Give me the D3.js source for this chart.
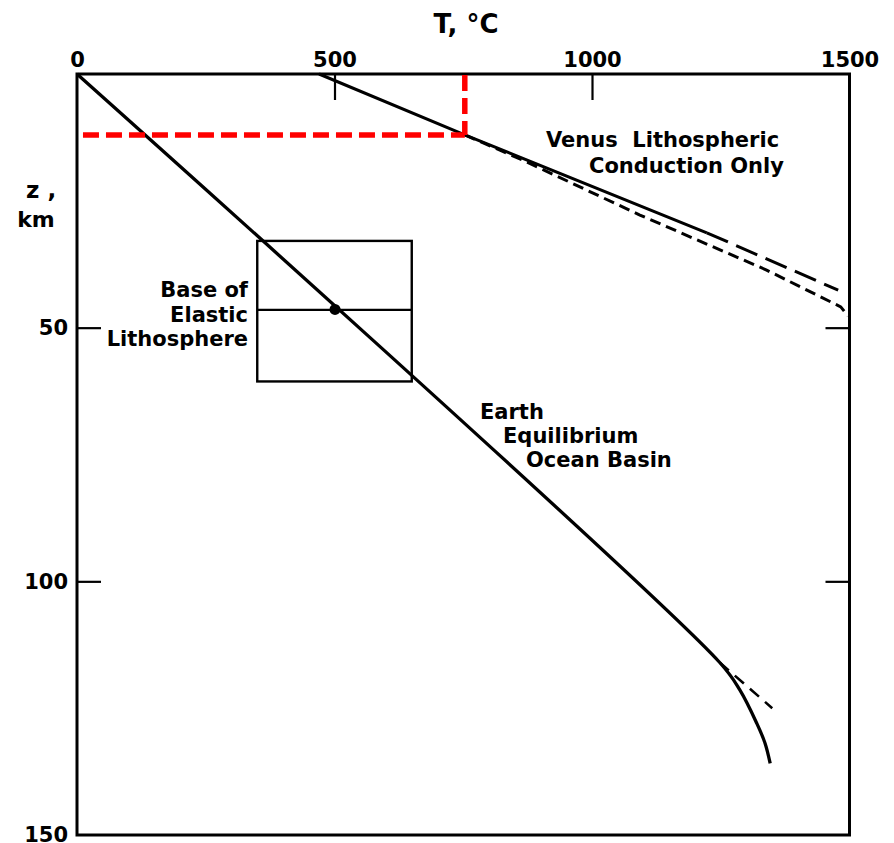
<!DOCTYPE html>
<html>
<head>
<meta charset="utf-8">
<script src="https://cdn.jsdelivr.net/npm/d3@7"></script>
<style>
  html, body { margin: 0; padding: 0; background: #fff; }
  svg { display: block; }
  text { font-family: "DejaVu Sans", sans-serif; font-weight: bold; fill: #000; white-space: pre; }
</style>
</head>
<body>
<svg id="chart" width="894" height="843"></svg>
<script>
// ---- data ----
const tempTicks = [0, 500, 1000, 1500];
const innerTempTicks = [500, 1000];
const depthTicks = [50, 100, 150];
const innerDepthTicks = [50, 100];

// Earth equilibrium ocean basin geotherm
const earthT = [0, 1248, 1287, 1320, 1336, 1346];
const earthZ = [0, 116, 121.4, 128, 131.9, 135.9];
// Earth dashed (linear) extension
const earthExtT = [1248, 1350];
const earthExtZ = [116, 125];

// Venus lithospheric conduction only (solid + long-dashed extension)
const venusT = [470, 753, 1223];
const venusZ = [0, 12, 31.3];
const venusExtT = [1223, 1478];
const venusExtZ = [31.3, 42.6];
// Venus alternative (short dashed)
const venusAltT = [753, 866, 1093, 1338, 1483, 1497];
const venusAltZ = [12, 17, 27.8, 38.6, 45.9, 47.7];

// Red marker (T, z)
const redT = [11.6, 753];
const redZ = [0, 12];

// Elastic lithosphere box
const boxT = [350, 650];
const boxZ = [32.9, 46.5, 60.6];
const pointT = [501];
const pointZ = [46.4];

// ---- layout ----
const svg = d3.select("#chart");
const L = 77, R = 849.5, T = 74, B = 835;
const x = d3.scaleLinear().domain([0, 1500]).range([L, R]);
const y = d3.scaleLinear().domain([0, 150]).range([T, B]);

const zip = (a, b) => a.map((v, i) => [v, b[i]]);
const line = d3.line().x(d => x(d[0])).y(d => y(d[1]));

// frame
svg.append("rect").attr("x", L).attr("y", T).attr("width", R - L).attr("height", B - T)
  .attr("fill", "none").attr("stroke", "#000").attr("stroke-width", 3);

// top axis labels
const topAxis = svg.append("g").attr("transform", `translate(0,${T})`)
  .call(d3.axisTop(x).tickValues(tempTicks).tickSize(0).tickPadding(7).tickFormat(d3.format("d")));
topAxis.select(".domain").remove();
topAxis.selectAll("text").style("font-size", "21px").style("font-family", "DejaVu Sans").style("font-weight", "bold");

// top inner ticks
const topTicks = svg.append("g").attr("transform", `translate(0,${T})`)
  .call(d3.axisBottom(x).tickValues(innerTempTicks).tickSize(26).tickFormat(""));
topTicks.select(".domain").remove();
topTicks.selectAll("line").attr("stroke", "#000").attr("stroke-width", 2.2);

// left axis labels
const leftAxis = svg.append("g").attr("transform", `translate(${L},0)`)
  .call(d3.axisLeft(y).tickValues(depthTicks).tickSize(0).tickPadding(9).tickFormat(d3.format("d")));
leftAxis.select(".domain").remove();
leftAxis.selectAll("text").style("font-size", "21px").style("font-family", "DejaVu Sans").style("font-weight", "bold");

// left inner ticks
const leftTicks = svg.append("g").attr("transform", `translate(${L},0)`)
  .call(d3.axisRight(y).tickValues(innerDepthTicks).tickSize(24).tickFormat(""));
leftTicks.select(".domain").remove();
leftTicks.selectAll("line").attr("stroke", "#000").attr("stroke-width", 2.2);

// right inner ticks
const rightTicks = svg.append("g").attr("transform", `translate(${R},0)`)
  .call(d3.axisLeft(y).tickValues(innerDepthTicks).tickSize(24).tickFormat(""));
rightTicks.select(".domain").remove();
rightTicks.selectAll("line").attr("stroke", "#000").attr("stroke-width", 2.2);

// axis titles
svg.append("text").attr("x", 466).attr("y", 33).attr("text-anchor", "middle")
  .style("font-size", "26px").text("T, °C");
svg.append("text").attr("x", 26).attr("y", 198).attr("text-anchor", "start")
  .style("font-size", "23px").text("z ,");
svg.append("text").attr("x", 36).attr("y", 227).attr("text-anchor", "middle")
  .style("font-size", "22px").text("km");

// elastic lithosphere box
const g = svg.append("g");
g.append("rect").attr("x", x(boxT[0])).attr("y", y(boxZ[0]))
  .attr("width", x(boxT[1]) - x(boxT[0])).attr("height", y(boxZ[2]) - y(boxZ[0]))
  .attr("fill", "none").attr("stroke", "#000").attr("stroke-width", 2.4);
g.append("path").attr("d", line([[boxT[0], boxZ[1]], [boxT[1], boxZ[1]]]))
  .attr("stroke", "#000").attr("stroke-width", 2.4).attr("fill", "none");

// Earth geotherm
g.append("path").attr("d", line.curve(d3.curveCatmullRom.alpha(0.5))(zip(earthT, earthZ)))
  .attr("fill", "none").attr("stroke", "#000").attr("stroke-width", 3.3);
line.curve(d3.curveLinear);
g.append("path").attr("d", line(zip(earthExtT, earthExtZ)))
  .attr("fill", "none").attr("stroke", "#000").attr("stroke-width", 2.6).attr("stroke-dasharray", "12 8");

// Venus geotherms
g.append("path").attr("d", line(zip(venusT, venusZ)))
  .attr("fill", "none").attr("stroke", "#000").attr("stroke-width", 3);
g.append("path").attr("d", line(zip(venusExtT, venusExtZ)))
  .attr("fill", "none").attr("stroke", "#000").attr("stroke-width", 3).attr("stroke-dasharray", "23 9");
g.append("path").attr("d", line(zip(venusAltT, venusAltZ)))
  .attr("fill", "none").attr("stroke", "#000").attr("stroke-width", 3).attr("stroke-dasharray", "11 6");

// point at base of elastic lithosphere
g.selectAll("circle.pt").data(zip(pointT, pointZ)).enter().append("circle")
  .attr("cx", d => x(d[0])).attr("cy", d => y(d[1])).attr("r", 5.5).attr("fill", "#000");

// red dashed marker
g.append("path").attr("d", line([[redT[0], redZ[1]], [redT[1], redZ[1]]]))
  .attr("fill", "none").attr("stroke", "#ff0000").attr("stroke-width", 5.5).attr("stroke-dasharray", "16 7");
g.append("path").attr("d", line([[redT[1], redZ[0] + 0.2], [redT[1], redZ[1]]]))
  .attr("fill", "none").attr("stroke", "#ff0000").attr("stroke-width", 5.5).attr("stroke-dasharray", "16 7");

// annotations
function label(lines, xs, ys, anchor, size) {
  lines.forEach((t, i) => {
    svg.append("text").attr("x", xs[i]).attr("y", ys[i]).attr("text-anchor", anchor)
      .style("font-size", size + "px").text(t);
  });
}
label(["Venus\u00a0\u00a0Lithospheric", "Conduction Only"], [546, 589], [147, 173], "start", 21);
label(["Base of", "Elastic", "Lithosphere"], [248, 248, 248], [297, 322, 346], "end", 21);
label(["Earth", "Equilibrium", "Ocean Basin"], [480, 503, 526], [419, 443, 467], "start", 21);
</script>
</body>
</html>
